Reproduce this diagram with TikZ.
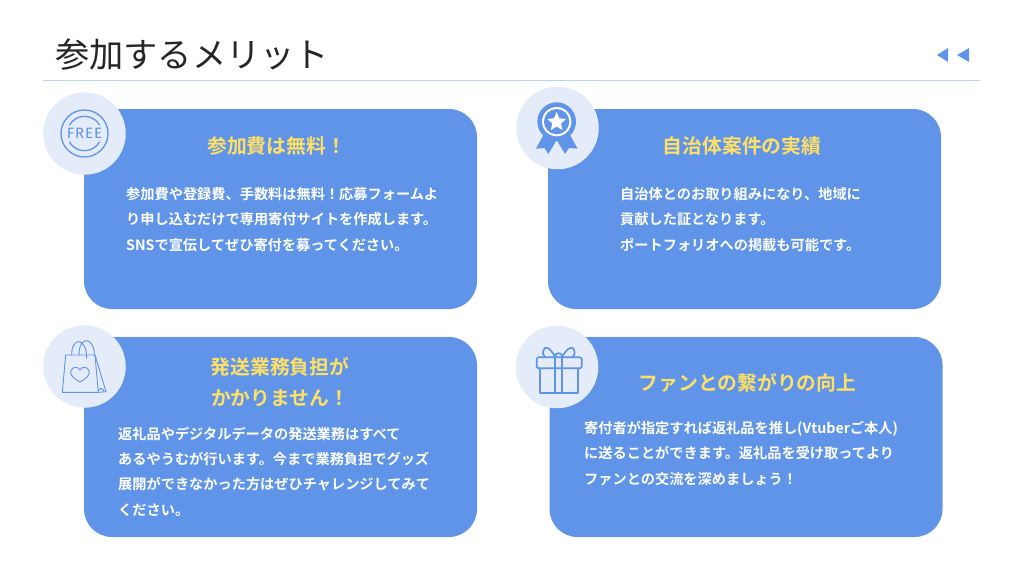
\documentclass[tikz,border=0pt]{standalone}
\usepackage{fontspec}
\usetikzlibrary{shapes.geometric}
\setmainfont{Noto Sans CJK JP}[BoldFont={Noto Sans CJK JP Bold}]
\newfontfamily\bodyfont{Noto Sans CJK JP Bold}
\newfontfamily\freefont{Fira Sans}[LetterSpace=6]
\definecolor{cardblue}{HTML}{5F94E8}
\definecolor{circblue}{HTML}{E4ECFA}
\definecolor{iconblue}{HTML}{5F94E8}
\definecolor{headyellow}{HTML}{FFE066}
\definecolor{rulecol}{HTML}{BAD4F0}
\definecolor{titlecol}{HTML}{262626}
\tikzset{
  cardbox/.style={fill=cardblue,rounded corners=28pt,minimum width=393pt,minimum height=200pt,inner sep=0pt},
  circbox/.style={circle,fill=circblue,minimum size=82.5pt,inner sep=0pt},
  headtxt/.style={text=headyellow,font=\fontsize{19.8}{31}\selectfont\bfseries,align=center,inner sep=0pt},
  bodytxt/.style={text=white,font=\bodyfont\fontsize{14.2}{25.3}\selectfont,align=left,anchor=west,inner sep=0pt},
  iconline/.style={draw=iconblue,line width=1.3pt,line join=round,line cap=round},
  zoomed/.style={x=0.3333pt,y=-0.3333pt},
}
\begin{document}
\begin{tikzpicture}[x=1pt,y=-1pt]
  \useasboundingbox (0,0) rectangle (1024,576);
  \fill[white] (0,0) rectangle (1024,576);
  % title
  \node[anchor=west,inner sep=0pt,text=titlecol,font=\fontsize{34.2}{38}\selectfont] (title) at (55,55) {参加するメリット};
  \draw[rulecol,line width=0.9pt] (43,80.5)--(980,80.5);
  \fill[cardblue] (948,48)--(948,62)--(937,55)--cycle;
  \fill[cardblue] (969,48)--(969,62)--(957,55)--cycle;
  % cards and circles
  \foreach \nm/\cx/\cy/\ix/\iy in {free/280.5/209/84.5/133.5,
      award/744.5/209/557.5/128,
      bag/280.5/437/84.5/366.5,
      gift/746/437/557/367}{
    \node[cardbox] (card\nm) at (\cx,\cy) {};
    \node[circbox] (circ\nm) at (\ix,\iy) {};
  }
  % headings
  \node[headtxt] (headfree) at (276.5,146.5) {参加費は無料！};
  \node[headtxt] (headaward) at (742,146.5) {自治体案件の実績};
  \node[headtxt] (headbag) at (280,382) {発送業務負担が\\かかりません！};
  \node[headtxt] (headgift) at (747.5,382.5) {ファンとの繋がりの向上};
  % body
  \node[bodytxt] (bodyfree) at (126,219.5) {参加費や登録費、手数料は無料！応募フォームよ\\り申し込むだけで専用寄付サイトを作成します。\\SNSで宣伝してぜひ寄付を募ってください。};
  \node[bodytxt] (bodyaward) at (620,219.5) {自治体とのお取り組みになり、地域に\\貢献した証となります。\\ポートフォリオへの掲載も可能です。};
  \node[bodytxt] (bodybag) at (118,471.5) {返礼品やデジタルデータの発送業務はすべて\\あるやうむが行います。今まで業務負担でグッズ\\展開ができなかった方はぜひチャレンジしてみて\\ください。};
  \node[bodytxt] (bodygift) at (584,453.5) {寄付者が指定すれば返礼品を推し(Vtuberご本人)\\に送ることができます。返礼品を受け取ってより\\ファンとの交流を深めましょう！};
  % free icon
  \draw[iconline] (circfree) circle (23.5);
  \draw[iconline] (84.5+15,133.5-8.5) arc[start angle=-30,end angle=-150,radius=17.3];
  \draw[iconline] (84.5-15,133.5+8.5) arc[start angle=150,end angle=30,radius=17.3];
  \node[text=iconblue,inner sep=0pt,font=\freefont\fontsize{15}{15}\selectfont] (freetxt) at (circfree) {FREE};
  % award icon
  \begin{scope}[shift={(505pt,-80pt)},zoomed]
    \fill[iconblue] (118,160)--(93,206)--(118,204)--(130,222)--(155,180)--cycle;
    \fill[iconblue] (192,160)--(218,206)--(192,204)--(180,222)--(155,180)--cycle;
    \fill[iconblue] (155,125) circle (58);
    \fill[white] (155,125) circle (44);
    \fill[iconblue] (155,125) circle (38);
    \node[star,star points=5,star point ratio=2.2,fill=white,inner sep=0pt,minimum size=20pt] (awardstar) at (155,126) {};
  \end{scope}
  % bag icon
  \begin{scope}[shift={(30pt,-320pt)},zoomed,iconline/.append style={line width=0.9pt}]
    \draw[iconline] (107,105)--(195,105)--(205,217)--(97,217)--cycle;
    \draw[iconline] (195,105)--(228,215)--(205,217);
    \draw[iconline] (205,212) .. controls (210,203) and (216,203) .. (222,213);
    \draw[iconline] (125,105) .. controls (125,50) and (170,50) .. (170,115);
    \draw[iconline] (147,105) .. controls (147,45) and (193,50) .. (193,105);
    \draw[iconline] (150,186) .. controls (125,172) and (118,160) .. (124,150) .. controls (130,138) and (145,140) .. (150,150) .. controls (155,140) and (170,138) .. (176,150) .. controls (182,160) and (175,172) .. (150,186);
  \end{scope}
  % gift icon
  \begin{scope}[shift={(505pt,-320pt)},zoomed,iconline/.append style={line width=1.7pt}]
    \draw[iconline,rounded corners=1.5pt] (95,112) rectangle (230,145);
    \draw[iconline] (105,145)--(105,218)--(220,218)--(220,145);
    \draw[iconline] (150,112)--(150,218) (172,112)--(172,218);
    \draw[iconline] (150,110) .. controls (138,88) and (122,72) .. (115,92) .. controls (112,102) and (116,108) .. (120,110);
    \draw[iconline] (172,110) .. controls (184,88) and (202,72) .. (208,92) .. controls (211,102) and (207,108) .. (203,110);
    \draw[iconline] (150,110) .. controls (150,96) and (172,96) .. (172,110);
  \end{scope}
\end{tikzpicture}
\end{document}
